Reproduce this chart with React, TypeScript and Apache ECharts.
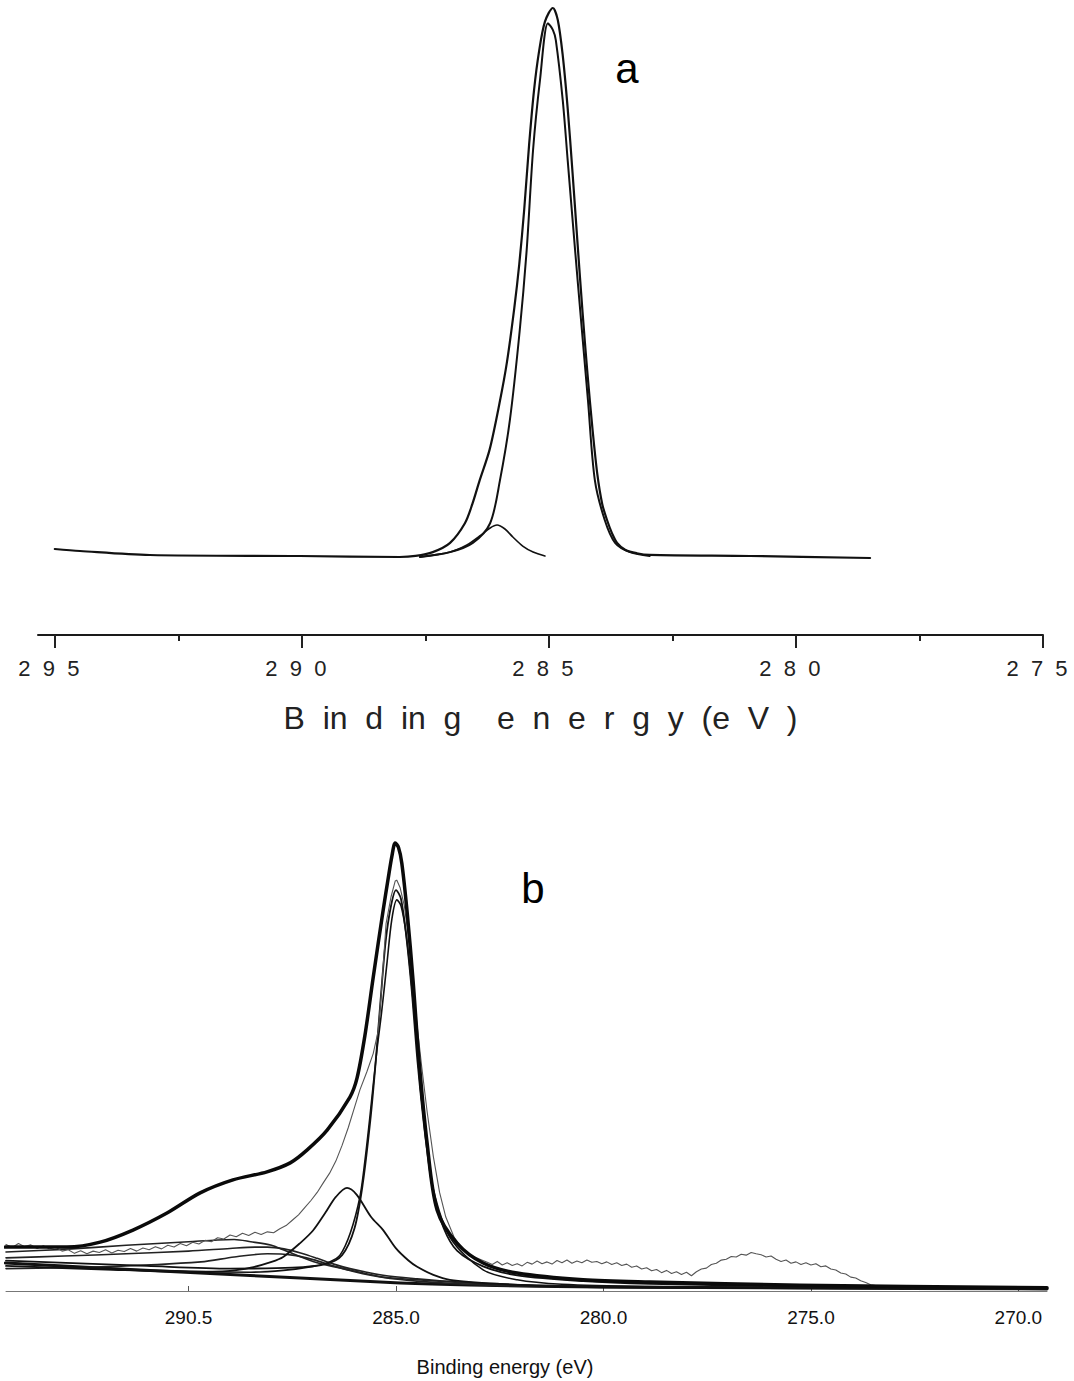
import React, { useEffect, useRef } from "react";
import * as echarts from "echarts";

const NB = "\u00a0";

// ---------- Panel a (top) ----------
const topTicks = [295, 290, 285, 280, 275];
const topTickLabels = ["2" + NB + NB + "9" + NB + NB + "5", "2" + NB + NB + "9" + NB + NB + "0", "2" + NB + NB + "8" + NB + NB + "5", "2" + NB + NB + "8" + NB + NB + "0", "2" + NB + NB + "7" + NB + NB + "5"];
const topMinorTicks = [292.5, 287.5, 282.5, 277.5];
const topAxisTitle = ["B", "in", "d", "in", "g", "", "e", "n", "e", "r", "g", "y", "(e", "V", ")"].join(NB + NB);

const topEnvelope: number[][] = [
  [295.0, 0.77], [294.49, 0.41], [293.08, -0.33], [290.04, -0.51], [288.02, -0.69], [287.7, -0.5],
  [287.35, 0.2], [287.0, 1.9], [286.7, 5.5], [286.55, 9.0], [286.4, 13.4], [286.2, 19.0],
  [286.0, 27.5], [285.85, 35.0], [285.7, 45.0], [285.6, 53.0], [285.5, 63.0], [285.4, 75.0],
  [285.3, 85.0], [285.2, 92.0], [285.08, 97.5], [284.92, 100.0], [284.82, 97.8], [284.72, 91.3],
  [284.62, 81.6], [284.52, 69.6], [284.42, 56.8], [284.32, 44.3], [284.22, 33.0], [284.12, 23.0],
  [284.02, 14.5], [283.92, 9.0], [283.82, 6.0], [283.72, 3.6], [283.62, 1.9], [283.45, 0.6],
  [283.22, 0.0], [282.96, -0.3], [280.93, -0.51], [278.5, -0.88],
];
const topMainPeak: number[][] = [
  [287.61, -0.69], [287.0, 0.2], [286.54, 1.9], [286.19, 5.5], [285.99, 13.4], [285.79, 24.4],
  [285.59, 40.9], [285.45, 55.6], [285.32, 74.0], [285.18, 86.8], [285.02, 97.2], [284.92, 96.0],
  [284.86, 94.1], [284.72, 83.1], [284.62, 72.1], [284.47, 55.6], [284.35, 42.8], [284.21, 28.1],
  [284.07, 13.4], [283.87, 6.1], [283.66, 1.9], [283.36, 0.2], [282.96, -0.5],
];
const topMinorPeak: number[][] = [
  [287.61, -0.69], [287.0, 0.22], [286.66, 1.51], [286.4, 3.16], [286.19, 4.62], [286.05, 5.17],
  [285.89, 4.44], [285.73, 2.97], [285.53, 1.32], [285.32, 0.22], [285.08, -0.51],
];

// ---------- Panel b (bottom) ----------
const bottomTicks = [290, 285, 280, 275, 270];
const bottomTickLabels = ["290.5", "285.0", "280.0", "275.0", "270.0"];
const bottomAxisTitle = "Binding energy (eV)";

const bottomEnvelope: number[][] = [
  [294.42, 9.8], [292.93, 9.8], [292.13, 10.9], [291.34, 13.6], [290.52, 17.4], [289.72, 21.9],
  [288.93, 24.8], [288.11, 26.6], [287.55, 28.6], [287.14, 31.5], [286.66, 35.9], [286.11, 43.3],
  [285.94, 47.5], [285.75, 57.0], [285.55, 70.0], [285.31, 85.0], [285.19, 92.0], [285.1, 97.0],
  [285.02, 100.0], [284.94, 99.0], [284.86, 95.5], [284.73, 84.4], [284.59, 69.4], [284.45, 52.0],
  [284.25, 33.0], [284.01, 18.1], [283.53, 10.7], [282.9, 6.25], [282.08, 4.0], [280.49, 2.5],
  [278.88, 2.0], [275.27, 1.3], [269.31, 0.7],
];
const bottomRaw: number[][] = [
  [294.40, 10.4], [294.25, 9.7], [294.10, 10.6], [293.95, 9.9], [293.80, 10.3], [293.65, 9.5],
  [293.50, 10.1], [293.35, 9.4], [293.20, 9.8], [293.05, 8.9], [292.90, 9.2], [292.75, 8.4],
  [292.60, 9.0], [292.45, 8.3], [292.30, 8.9], [292.15, 8.6], [292.00, 9.2], [291.85, 8.5],
  [291.70, 9.1], [291.55, 8.8], [291.40, 9.5], [291.25, 8.9], [291.10, 9.6], [290.95, 9.2],
  [290.80, 9.9], [290.65, 9.4], [290.50, 10.2], [290.35, 9.8], [290.20, 10.6], [290.05, 10.1],
  [289.90, 10.9], [289.75, 10.5], [289.60, 11.3], [289.45, 11.0], [289.30, 11.9], [289.15, 11.6],
  [289.00, 12.5], [288.85, 12.1], [288.70, 12.9], [288.55, 12.4], [288.40, 13.1], [288.25, 12.6],
  [288.10, 13.2], [287.95, 13.0], [287.80, 13.9], [287.65, 14.6], [287.50, 15.8], [287.35, 17.0],
  [287.20, 18.6], [287.05, 20.2], [286.90, 22.0], [286.75, 24.2], [286.60, 26.3], [286.45, 29.0],
  [286.30, 32.5], [286.15, 36.5], [286.00, 41.0], [285.87, 44.9], [285.70, 49.0], [285.55, 53.0],
  [285.43, 58.0], [285.35, 67.0], [285.24, 82.0], [285.12, 88.0], [285.02, 91.5], [284.98, 91.7],
  [284.90, 90.0], [284.80, 86.0], [284.70, 79.0], [284.60, 70.0], [284.50, 60.0], [284.38, 50.0],
  [284.25, 40.0], [284.10, 30.0], [283.95, 22.0], [283.80, 16.5], [283.60, 12.0], [283.40, 9.4],
  [283.20, 8.0], [282.95, 7.0], [282.80, 6.4], [282.68, 5.9], [282.56, 6.6], [282.44, 5.8], [282.32, 6.3],
  [282.20, 5.7], [282.08, 6.1], [281.96, 5.6], [281.84, 6.4], [281.72, 6.0], [281.60, 6.7],
  [281.48, 6.1], [281.36, 6.5], [281.24, 6.0], [281.12, 6.8], [281.00, 6.3], [280.88, 6.9],
  [280.76, 6.2], [280.64, 6.7], [280.52, 6.3], [280.40, 6.9], [280.28, 6.4], [280.16, 6.6],
  [280.04, 6.1], [279.92, 6.5], [279.80, 5.9], [279.68, 6.3], [279.56, 5.7], [279.44, 6.0],
  [279.32, 5.3], [279.20, 5.6], [279.08, 4.9], [278.96, 5.2], [278.84, 4.5], [278.72, 4.8],
  [278.60, 4.1], [278.48, 4.6], [278.36, 3.9], [278.24, 4.3], [278.12, 3.7], [278.00, 4.2],
  [277.88, 3.4], [277.76, 4.3], [277.64, 4.9], [277.52, 5.1], [277.40, 5.9], [277.28, 6.2],
  [277.16, 6.9], [277.04, 7.1], [276.92, 7.7], [276.80, 7.6], [276.68, 8.2], [276.56, 8.0],
  [276.44, 8.6], [276.32, 8.3], [276.20, 8.1], [276.08, 7.6], [275.96, 7.8], [275.84, 7.1],
  [275.72, 6.6], [275.60, 6.9], [275.48, 6.2], [275.36, 6.5], [275.24, 5.9], [275.12, 6.3],
  [275.00, 5.8], [274.88, 6.1], [274.76, 5.4], [274.64, 5.6], [274.52, 4.9], [274.40, 4.7],
  [274.28, 4.0], [274.16, 3.8], [274.04, 3.1], [273.92, 2.9], [273.80, 2.3], [273.68, 1.9],
  [273.56, 1.4], [273.44, 1.2], [273.30, 1.0], [273.00, 1.1], [272.50, 0.9], [272.00, 1.0],
  [271.50, 0.8], [271.00, 0.9], [270.50, 0.8], [270.00, 0.9], [269.31, 0.8],
];
const bottomBackground: number[][] = [
  [294.42, 6.25], [292.13, 5.13], [289.72, 4.02], [287.31, 2.9], [284.9, 1.79], [283.22, 1.34],
  [280.08, 0.89], [275.27, 0.67], [269.31, 0.45],
];
const bottomMainA: number[][] = [
  [294.4, 6.3], [292.0, 5.0], [290.0, 4.4], [288.5, 4.2], [287.72, 4.6], [287.0, 5.5], [286.6, 6.5],
  [286.35, 8.0], [286.1, 13.0], [285.87, 21.0], [285.75, 29.0], [285.63, 38.8], [285.46, 53.8],
  [285.35, 62.0], [285.22, 73.0], [285.1, 83.0], [284.98, 87.3], [284.88, 86.0], [284.76, 80.0],
  [284.62, 68.0], [284.48, 53.0], [284.4, 44.0], [284.25, 33.0], [284.11, 23.0], [283.7, 12.0],
  [282.9, 4.7], [282.08, 2.5], [281.0, 1.5], [279.0, 1.0], [275.0, 0.7], [269.31, 0.5],
];
const bottomMainB: number[][] = [
  [294.4, 6.8], [291.0, 5.6], [289.0, 5.0], [287.5, 5.2], [286.7, 6.0], [286.3, 8.0], [286.0, 14.0],
  [285.8, 24.0], [285.62, 38.0], [285.5, 50.0], [285.38, 64.0], [285.25, 78.0], [285.12, 86.0],
  [285.0, 89.5], [284.88, 87.5], [284.75, 79.0], [284.62, 67.0], [284.48, 51.0], [284.3, 35.0],
  [284.1, 22.0], [283.85, 14.0], [283.53, 9.0], [282.9, 5.5], [282.08, 3.5], [280.49, 2.2],
  [278.88, 1.6], [275.27, 1.0], [269.31, 0.6],
];
const bottomC286: number[][] = [
  [294.4, 5.6], [292.0, 4.8], [290.0, 4.3], [289.0, 4.5], [288.5, 5.2], [288.0, 6.5], [287.72, 7.6],
  [287.31, 10.7], [287.0, 13.5], [286.7, 17.5], [286.45, 21.0], [286.18, 23.0], [285.95, 21.5],
  [285.6, 16.5], [285.31, 13.6], [285.0, 9.5], [284.7, 6.8], [284.49, 5.4], [284.1, 3.6],
  [283.7, 2.5], [282.5, 1.6], [281.0, 1.0], [278.0, 0.7], [269.31, 0.5],
];
const bottomC289: number[][] = [
  [294.4, 8.7], [293.0, 9.3], [291.5, 10.2], [290.0, 11.0], [289.3, 11.4], [288.9, 11.5],
  [288.5, 11.0], [288.0, 10.2], [287.72, 9.2], [286.9, 6.3], [286.11, 4.7], [285.31, 3.1],
  [284.49, 2.5], [283.5, 1.9], [282.0, 1.3], [280.0, 0.9], [276.0, 0.7], [269.31, 0.5],
];
const bottomC288: number[][] = [
  [294.4, 7.4], [293.0, 7.8], [291.5, 8.3], [290.0, 8.9], [289.0, 9.5], [288.4, 9.8], [288.1, 9.8],
  [287.7, 9.4], [287.3, 8.5], [286.9, 7.3], [286.5, 6.0], [286.11, 5.0], [285.31, 3.5],
  [284.49, 2.7], [283.5, 2.0], [282.0, 1.4], [280.0, 1.0], [276.0, 0.7], [269.31, 0.5],
];
const bottomC287: number[][] = [
  [294.4, 5.0], [292.1, 5.4], [289.7, 6.5], [288.9, 7.6], [288.1, 8.3], [287.5, 8.0], [287.0, 7.0],
  [286.5, 5.6], [286.0, 4.3], [285.3, 3.0], [284.5, 2.2], [283.5, 1.6], [282.0, 1.1], [279.0, 0.8],
  [269.31, 0.5],
];

function labelFor(ticks: number[], labels: string[]) {
  return (v: number) => {
    const i = ticks.findIndex((t) => Math.abs(t - v) < 1e-6);
    return i >= 0 ? labels[i] : "";
  };
}

function line(data: number[][], xi: number, yi: number, width: number, color: string, smooth: boolean | number, z = 2) {
  return {
    type: "line",
    xAxisIndex: xi,
    yAxisIndex: yi,
    data,
    showSymbol: false,
    symbol: "none",
    smooth,
    clip: false,
    z,
    lineStyle: { width, color, join: "round", cap: "round" },
    emphasis: { disabled: true },
  };
}

export default function App() {
  const ref = useRef<HTMLDivElement>(null);
  useEffect(() => {
    if (!ref.current) return;
    const chart = echarts.init(ref.current, null, { renderer: "svg" });
    const option = {
      animation: false,
      backgroundColor: "#ffffff",
      textStyle: { fontFamily: "Liberation Sans, Arial, sans-serif" },
      grid: [
        { left: 38, right: 31, top: 8, height: 627 },
        { left: 6, right: 27, top: 843, height: 448 },
      ],
      xAxis: [
        {
          type: "value",
          gridIndex: 0,
          min: 275,
          max: 295.34,
          inverse: true,
          position: "bottom",
          splitLine: { show: false },
          axisLine: { show: true, onZero: false, lineStyle: { color: "#1a1a1a", width: 2 } },
          axisTick: { show: true, customValues: topTicks, length: 13, lineStyle: { color: "#222", width: 2 } },
          axisLabel: {
            show: true,
            customValues: topTicks,
            formatter: labelFor(topTicks, topTickLabels),
            fontSize: 22,
            color: "#222",
            margin: 22,
            padding: [0, 12, 0, 0],
            fontFamily: "Liberation Sans, Arial, sans-serif",
          },
          name: topAxisTitle,
          nameLocation: "middle",
          nameGap: 67,
          nameTextStyle: { fontSize: 32, color: "#222", fontFamily: "Liberation Sans, Arial, sans-serif" },
        },
        {
          type: "value",
          gridIndex: 0,
          min: 275,
          max: 295.34,
          inverse: true,
          position: "bottom",
          splitLine: { show: false },
          axisLine: { show: false, onZero: false },
          axisTick: { show: true, customValues: topMinorTicks, length: 6, lineStyle: { color: "#222", width: 2 } },
          axisLabel: { show: false },
        },
        {
          type: "value",
          gridIndex: 1,
          min: 269.31,
          max: 294.4,
          inverse: true,
          position: "bottom",
          splitLine: { show: false },
          axisLine: { show: true, onZero: false, lineStyle: { color: "#777", width: 1 } },
          axisTick: { show: true, inside: true, customValues: bottomTicks, length: 5, lineStyle: { color: "#555", width: 1 } },
          axisLabel: {
            show: true,
            customValues: bottomTicks,
            formatter: labelFor(bottomTicks, bottomTickLabels),
            fontSize: 19,
            color: "#111",
            margin: 17,
            fontFamily: "Liberation Sans, Arial, sans-serif",
          },
        },
      ],
      yAxis: [
        { type: "value", gridIndex: 0, min: -15, max: 100, show: false, splitLine: { show: false } },
        { type: "value", gridIndex: 1, min: 0, max: 100, show: false, splitLine: { show: false } },
      ],
      graphic: [
        {
          type: "text",
          x: 627,
          y: 68,
          style: { text: "a", fontSize: 42, fill: "#000", align: "center", verticalAlign: "middle", fontFamily: "Liberation Sans, Arial, sans-serif" },
        },
        {
          type: "text",
          x: 533,
          y: 888,
          style: { text: "b", fontSize: 42, fill: "#000", align: "center", verticalAlign: "middle", fontFamily: "Liberation Sans, Arial, sans-serif" },
        },
        {
          type: "text",
          x: 505,
          y: 1367,
          style: { text: bottomAxisTitle, fontSize: 20, fill: "#111", align: "center", verticalAlign: "middle", fontFamily: "Liberation Sans, Arial, sans-serif" },
        },
      ],
      series: [
        line(topMinorPeak, 0, 0, 1.6, "#111", 0.3),
        line(topMainPeak, 0, 0, 2, "#111", 0.3),
        line(topEnvelope, 0, 0, 2.2, "#111", 0.3),
        line(bottomBackground, 2, 1, 3, "#111", 0.3),
        line(bottomC287, 2, 1, 1.6, "#222", 0.3),
        line(bottomC288, 2, 1, 1.6, "#222", 0.3),
        line(bottomC289, 2, 1, 1.6, "#222", 0.3),
        line(bottomC286, 2, 1, 1.8, "#111", 0.3),
        line(bottomMainA, 2, 1, 1.6, "#111", 0.3),
        line(bottomMainB, 2, 1, 1.8, "#111", 0.3),
        line(bottomRaw, 2, 1, 1.1, "#555", false),
        line(bottomEnvelope, 2, 1, 3.5, "#0a0a0a", 0.3, 3),
      ],
    };
    chart.setOption(option as any);
    return () => chart.dispose();
  }, []);
  return (
    <div
      ref={ref}
      style={{ position: "absolute", left: 0, top: 0, width: 1074, height: 1381, background: "#fff" }}
    />
  );
}
